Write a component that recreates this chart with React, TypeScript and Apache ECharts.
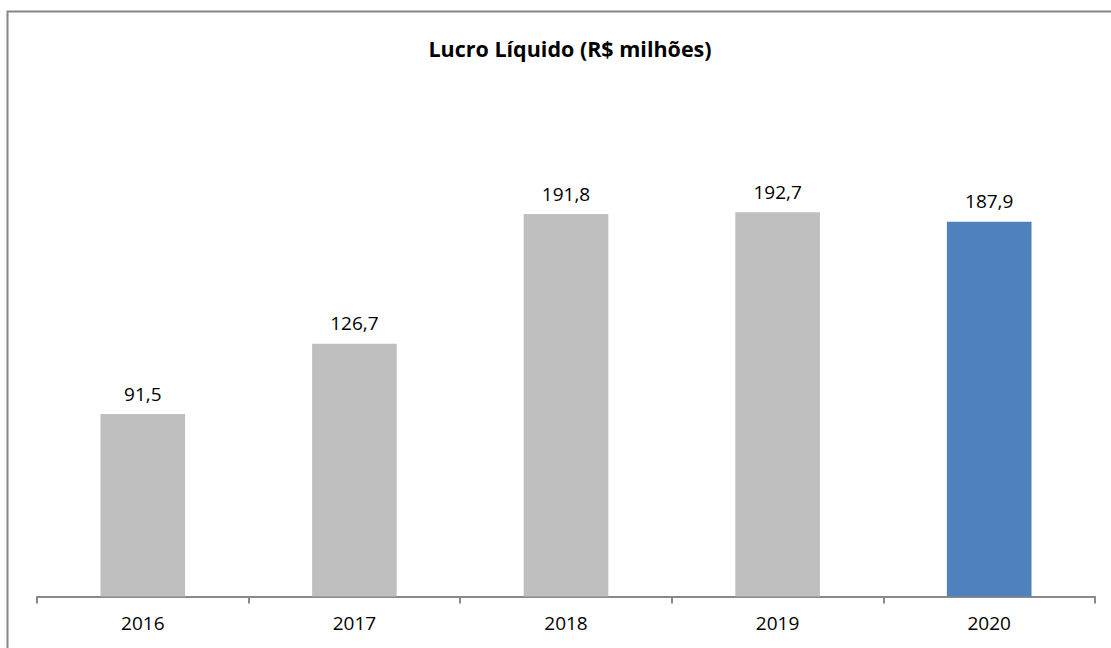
import React, { useEffect, useRef } from "react";
import * as echarts from "echarts";

const categories = ["2016", "2017", "2018", "2019", "2020"];
const values = [91.5, 126.7, 191.8, 192.7, 187.9];
const barColors = ["#BFBFBF", "#BFBFBF", "#BFBFBF", "#BFBFBF", "#4F81BD"];
const titleText = "Lucro Líquido (R$ milhões)";

export default function App() {
  const ref = useRef<HTMLDivElement>(null);
  useEffect(() => {
    if (!ref.current) return;
    const chart = echarts.init(ref.current, null, { renderer: "svg" });
    chart.setOption({
      animation: false,
      backgroundColor: "#ffffff",
      textStyle: { fontFamily: "Open Sans" },
      grid: { left: 37, right: 16, top: 98, bottom: 51.5, containLabel: false },
      xAxis: {
        type: "category",
        data: categories,
        axisLine: { show: true, lineStyle: { color: "#898989", width: 2 } },
        axisTick: { show: true, length: 7, lineStyle: { color: "#898989", width: 2 } },
        axisLabel: { color: "#000000", fontSize: 19, margin: 17, fontFamily: "Open Sans" },
      },
      yAxis: {
        type: "value",
        min: 0,
        max: 250,
        show: false,
        splitLine: { show: false },
      },
      graphic: [
        {
          type: "rect",
          shape: { x: 7.5, y: 11.5, width: 1130, height: 700 },
          style: { fill: "none", stroke: "#878787", lineWidth: 2 },
          silent: true,
        },
        {
          type: "text",
          x: 570,
          y: 48,
          style: {
            text: titleText,
            fontSize: 21.5,
            fontWeight: "bold",
            fontFamily: "Open Sans",
            fill: "#000000",
            textAlign: "center",
            textVerticalAlign: "middle",
          },
        },
      ],
      series: [
        {
          type: "bar",
          barWidth: "40%",
          data: values.map((v, i) => ({ value: v, itemStyle: { color: barColors[i] } })),
          label: {
            show: true,
            position: "top",
            distance: 11,
            color: "#000000",
            fontSize: 19,
            fontFamily: "Open Sans",
            formatter: (p: any) => String(p.value).replace(".", ","),
          },
        },
      ],
    });
    return () => chart.dispose();
  }, []);
  return (
    <div
      ref={ref}
      style={{ position: "fixed", left: 0, top: 0, width: 1111, height: 648 }}
    />
  );
}
